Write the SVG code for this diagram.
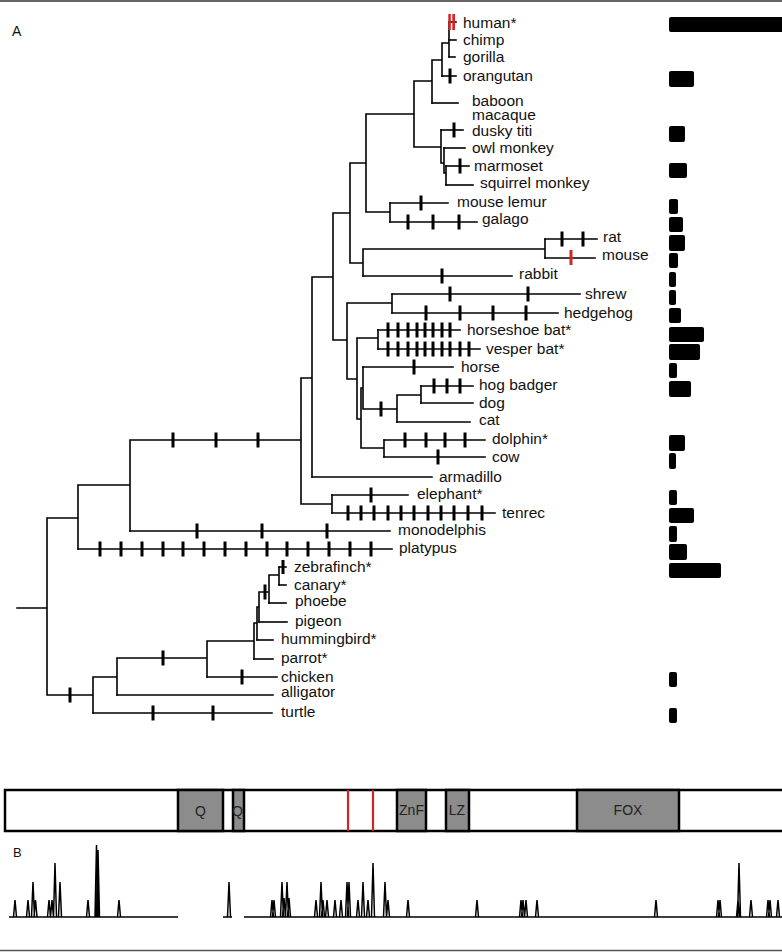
<svg xmlns="http://www.w3.org/2000/svg" width="782" height="952" viewBox="0 0 782 952">
<style>
.br{stroke:#000;stroke-width:1.6;fill:none;stroke-linecap:square}
.tk{stroke:#000;stroke-width:3;fill:none}
.rt{stroke:#d42424;stroke-width:3;fill:none}
.lb{font-family:"Liberation Sans",Arial,sans-serif;font-size:15.5px;fill:#111}
.bar{fill:#000}
.dom{fill:#8c8c8c;stroke:#000;stroke-width:2.5}
.dt{font-family:"Liberation Sans",Arial,sans-serif;font-size:14px;fill:#222;text-anchor:middle}
.pl{stroke:#000;stroke-width:1.5;fill:none;stroke-linejoin:miter}
</style>
<rect width="782" height="952" fill="#fff"/>
<line x1="0" y1="1" x2="782" y2="1" stroke="#666" stroke-width="2"/>
<line x1="0" y1="950.5" x2="782" y2="950.5" stroke="#555" stroke-width="1.5"/>
<text x="12" y="36" font-family="Liberation Sans, Arial, sans-serif" font-size="14" fill="#111">A</text>
<text x="13" y="857" font-family="Liberation Sans, Arial, sans-serif" font-size="13" fill="#111">B</text>

<g id="connectors">
<path class="br" d="M449 22V57M442 43H449M442 43V76M432 60H442M432 60V103M414 81H432M414 81V147H441M441 130V163H444M444 148V173H446M446 166V185
M366 114H414M366 114V212H390M390 203V222M350 163H366M350 163V263H363M363 249V276M363 249H545M545 239V258
M333 213H350M333 213V340H347M347 303V379H357M347 303H392M392 294V313M357 338V419H361M357 338H378M378 330V349
M361 388V448H384M361 388H363M363 367V409H397M397 395V422M397 395H421M421 386V403M384 440V457
M312 277H333M312 277V477M301 378H312M301 378V504H332M332 495V513
M130 440H301M130 440V531M78 485H130M78 485V549M47 518H78M47 518V695H93M17 608H47
M93 677V713M93 677H117M117 658V695M117 658H207M207 641V677M207 641H254M254 623V659M254 623H257M257 607V640M257 607H259M259 592V622M259 592H269M269 575V603M269 575H279M279 567V585"/>
<path class="tk" d="M381 401.5v15M173 432.5v15M216 432.5v15M258 432.5v15M70 687.5v15M163 650.5v15M265 584.5v15"/>
</g>

<g id="t-human"><path class="br" d="M449 22H456"/><rect x="448.3" y="14" width="2.5" height="16" fill="#d42424"/><rect x="452.3" y="14" width="2.7" height="16" fill="#d42424"/><text class="lb" x="463" y="28">human*</text><rect class="bar" x="669" y="17" width="130" height="15" rx="2"/></g>
<g id="t-chimp"><path class="br" d="M449 40H456"/><text class="lb" x="463" y="45">chimp</text></g>
<g id="t-gorilla"><path class="br" d="M449 57H455"/><text class="lb" x="463" y="62">gorilla</text></g>
<g id="t-orangutan"><path class="br" d="M442 76H456"/><path class="tk" d="M450 68.5v15"/><text class="lb" x="463" y="81">orangutan</text><rect class="bar" x="669" y="71" width="25" height="16" rx="2"/></g>
<g id="t-baboon"><path class="br" d="M432 103H458"/><text class="lb" x="472" y="106">baboon</text></g>
<g id="t-macaque"><text class="lb" x="472" y="120">macaque</text></g>
<g id="t-duskytiti"><path class="br" d="M441 130H463"/><path class="tk" d="M454 122.5v15"/><text class="lb" x="472" y="136">dusky titi</text><rect class="bar" x="669" y="126" width="16" height="16" rx="2"/></g>
<g id="t-owlmonkey"><path class="br" d="M444 148H465"/><text class="lb" x="472" y="153">owl monkey</text></g>
<g id="t-marmoset"><path class="br" d="M446 166H469"/><path class="tk" d="M460 158.5v15"/><text class="lb" x="474" y="171">marmoset</text><rect class="bar" x="669" y="163" width="18" height="15" rx="2"/></g>
<g id="t-squirrelmonkey"><path class="br" d="M446 185H473"/><text class="lb" x="480" y="188">squirrel monkey</text></g>
<g id="t-mouselemur"><path class="br" d="M390 203H448"/><path class="tk" d="M421 195.5v15"/><text class="lb" x="457" y="207">mouse lemur</text><rect class="bar" x="669" y="199" width="9" height="15" rx="2"/></g>
<g id="t-galago"><path class="br" d="M390 222H477"/><path class="tk" d="M408 214.5v15M433 214.5v15M459 214.5v15"/><text class="lb" x="482" y="224">galago</text><rect class="bar" x="669" y="217" width="14" height="15" rx="2"/></g>
<g id="t-rat"><path class="br" d="M545 239H597"/><path class="tk" d="M562 231.5v15M583 231.5v15"/><text class="lb" x="603" y="242">rat</text><rect class="bar" x="669" y="235" width="16" height="16" rx="2"/></g>
<g id="t-mouse"><path class="br" d="M545 258H595"/><path class="rt" d="M571 250v15"/><text class="lb" x="602" y="260">mouse</text><rect class="bar" x="669" y="253" width="9" height="15" rx="2"/></g>
<g id="t-rabbit"><path class="br" d="M363 276H512"/><path class="tk" d="M442 268.5v15"/><text class="lb" x="519" y="279">rabbit</text><rect class="bar" x="669" y="272" width="7" height="15" rx="2"/></g>
<g id="t-shrew"><path class="br" d="M392 294H580"/><path class="tk" d="M450 286.5v15M528 286.5v15"/><text class="lb" x="585" y="299">shrew</text><rect class="bar" x="669" y="290" width="7" height="15" rx="2"/></g>
<g id="t-hedgehog"><path class="br" d="M392 313H558"/><path class="tk" d="M426 305.5v15M460 305.5v15M493 305.5v15M526 305.5v15"/><text class="lb" x="564" y="318">hedgehog</text><rect class="bar" x="669" y="308" width="12" height="15" rx="2"/></g>
<g id="t-horseshoebat"><path class="br" d="M378 330H460"/><path class="tk" d="M388 322.5v15M398 322.5v15M408 322.5v15M417 322.5v15M425 322.5v15M433 322.5v15M442 322.5v15M450 322.5v15"/><text class="lb" x="467" y="335">horseshoe bat*</text><rect class="bar" x="669" y="327" width="35" height="15" rx="2"/></g>
<g id="t-vesperbat"><path class="br" d="M378 349H480"/><path class="tk" d="M388 341.5v15M398 341.5v15M408 341.5v15M417 341.5v15M425 341.5v15M433 341.5v15M442 341.5v15M450 341.5v15M460 341.5v15M469 341.5v15"/><text class="lb" x="486" y="354">vesper bat*</text><rect class="bar" x="669" y="344" width="31" height="16" rx="2"/></g>
<g id="t-horse"><path class="br" d="M363 367H453"/><path class="tk" d="M414 359.5v15"/><text class="lb" x="461" y="372">horse</text><rect class="bar" x="669" y="363" width="8" height="15" rx="2"/></g>
<g id="t-hogbadger"><path class="br" d="M421 386H473"/><path class="tk" d="M434 378.5v15M447 378.5v15M460 378.5v15"/><text class="lb" x="479" y="390">hog badger</text><rect class="bar" x="669" y="381" width="22" height="16" rx="2"/></g>
<g id="t-dog"><path class="br" d="M421 403H473"/><text class="lb" x="479" y="408">dog</text></g>
<g id="t-cat"><path class="br" d="M397 422H470"/><text class="lb" x="479" y="425">cat</text></g>
<g id="t-dolphin"><path class="br" d="M384 440H485"/><path class="tk" d="M405 432.5v15M426 432.5v15M445 432.5v15M465 432.5v15"/><text class="lb" x="492" y="444">dolphin*</text><rect class="bar" x="669" y="435" width="16" height="16" rx="2"/></g>
<g id="t-cow"><path class="br" d="M384 457H485"/><path class="tk" d="M438 449.5v15"/><text class="lb" x="492" y="462">cow</text><rect class="bar" x="669" y="453" width="7" height="16" rx="2"/></g>
<g id="t-armadillo"><path class="br" d="M312 477H432"/><text class="lb" x="439" y="482">armadillo</text></g>
<g id="t-elephant"><path class="br" d="M332 495H408"/><path class="tk" d="M371 487.5v15"/><text class="lb" x="417" y="499">elephant*</text><rect class="bar" x="669" y="490" width="8" height="15" rx="2"/></g>
<g id="t-tenrec"><path class="br" d="M332 513H495"/><path class="tk" d="M348 505.5v15M361 505.5v15M374 505.5v15M388 505.5v15M401 505.5v15M414 505.5v15M428 505.5v15M441 505.5v15M454 505.5v15M468 505.5v15M482 505.5v15"/><text class="lb" x="502" y="518">tenrec</text><rect class="bar" x="669" y="508" width="25" height="15" rx="2"/></g>
<g id="t-monodelphis"><path class="br" d="M130 531H390"/><path class="tk" d="M197 523.5v15M262 523.5v15M327 523.5v15"/><text class="lb" x="398" y="535">monodelphis</text><rect class="bar" x="669" y="526" width="8" height="16" rx="2"/></g>
<g id="t-platypus"><path class="br" d="M78 549H392"/><path class="tk" d="M100 541.5v15M121 541.5v15M142 541.5v15M163 541.5v15M183 541.5v15M204 541.5v15M225 541.5v15M246 541.5v15M267 541.5v15M287 541.5v15M308 541.5v15M329 541.5v15M350 541.5v15M371 541.5v15"/><text class="lb" x="399" y="553">platypus</text><rect class="bar" x="669" y="544" width="18" height="16" rx="2"/></g>
<g id="t-zebrafinch"><path class="br" d="M279 567H286"/><path class="tk" d="M283 560v14"/><text class="lb" x="294" y="572">zebrafinch*</text><rect class="bar" x="669" y="563" width="52" height="15" rx="2"/></g>
<g id="t-canary"><path class="br" d="M279 585H286"/><text class="lb" x="294" y="590">canary*</text></g>
<g id="t-phoebe"><path class="br" d="M269 603H286"/><text class="lb" x="295" y="606">phoebe</text></g>
<g id="t-pigeon"><path class="br" d="M259 622H287"/><text class="lb" x="295" y="626">pigeon</text></g>
<g id="t-hummingbird"><path class="br" d="M257 640H273"/><text class="lb" x="281" y="644">hummingbird*</text></g>
<g id="t-parrot"><path class="br" d="M254 659H273"/><text class="lb" x="281" y="663">parrot*</text></g>
<g id="t-chicken"><path class="br" d="M207 677H277"/><path class="tk" d="M242 669.5v15"/><text class="lb" x="281" y="682">chicken</text><rect class="bar" x="669" y="672" width="8" height="15" rx="2"/></g>
<g id="t-alligator"><path class="br" d="M117 695H273"/><text class="lb" x="281" y="697">alligator</text></g>
<g id="t-turtle"><path class="br" d="M93 713H272"/><path class="tk" d="M153 705.5v15M213 705.5v15"/><text class="lb" x="281" y="717">turtle</text><rect class="bar" x="669" y="708" width="8" height="15" rx="2"/></g>

<g id="protein">
<rect x="5" y="790" width="800" height="41" fill="#fff" stroke="#000" stroke-width="2.5"/>
<g id="d-Q1"><rect class="dom" x="178" y="790" width="45" height="41"/><text class="dt" x="200.5" y="816">Q</text></g>
<g id="d-Q2"><rect class="dom" x="233" y="790" width="11" height="41"/><text class="dt" x="237.5" y="816">Q</text></g>
<line x1="348" y1="790" x2="348" y2="831" stroke="#d42424" stroke-width="2.2"/>
<line x1="373" y1="790" x2="373" y2="831" stroke="#d42424" stroke-width="2.2"/>
<g id="d-ZnF"><rect class="dom" x="397" y="790" width="29" height="41"/><text class="dt" x="411.5" y="815">ZnF</text></g>
<g id="d-LZ"><rect class="dom" x="446" y="790" width="23" height="41"/><text class="dt" x="457" y="815">LZ</text></g>
<g id="d-FOX"><rect class="dom" x="577" y="790" width="102" height="41"/><text class="dt" x="628" y="815">FOX</text></g>
</g>

<g id="plot">
<path class="pl" d="M9 917H178M223 917H232M244 917H782"/>
<path class="pl" d="M13.5 917L15 900L16.5 917M26.5 917L28 900L29.5 917M31.5 917L33 882L34.5 917M34 917L35.5 900L37 917M47.5 917L49 900L50.5 917M50.5 917L52 900L53.5 917M53.5 917L55 863L56.5 917M58.5 917L60 882L61.5 917M86.5 917L88 900L89.5 917M95 917L96.5 845L98 917M96.5 917L98 850L99.5 917M117.5 917L119 900L120.5 917
M227.5 917L229 882L230.5 917
M270.5 917L272 900L273.5 917M272.5 917L274 900L275.5 917M280.5 917L282 882L283.5 917M282.5 917L284 898L285.5 917M285.5 917L287 882L288.5 917M287.5 917L289 898L290.5 917M314.5 917L316 900L317.5 917M319.5 917L321 882L322.5 917M321.5 917L323 900L324.5 917M325.5 917L327 900L328.5 917M333.5 917L335 900L336.5 917M339.5 917L341 900L342.5 917M345.5 917L347 882L348.5 917M347.5 917L349 882L350.5 917M356.5 917L358 900L359.5 917M361.5 917L363 882L364.5 917M366.5 917L368 900L369.5 917M371.5 917L373 863L374.5 917M383.5 917L385 882L386.5 917M386.5 917L388 900L389.5 917M406.5 917L408 900L409.5 917M475.5 917L477 900L478.5 917M519.5 917L521 900L522.5 917M521.5 917L523 900L524.5 917M524.5 917L526 900L527.5 917M535.5 917L537 900L538.5 917M654.5 917L656 900L657.5 917M716.5 917L718 900L719.5 917M718.5 917L720 900L721.5 917M736.5 917L738 900L739.5 917M737.5 917L739 863L740.5 917M749.5 917L751 900L752.5 917M766.5 917L768 900L769.5 917M768.5 917L770 900L771.5 917M776.5 917L778 900L779.5 917"/>
</g>
</svg>
